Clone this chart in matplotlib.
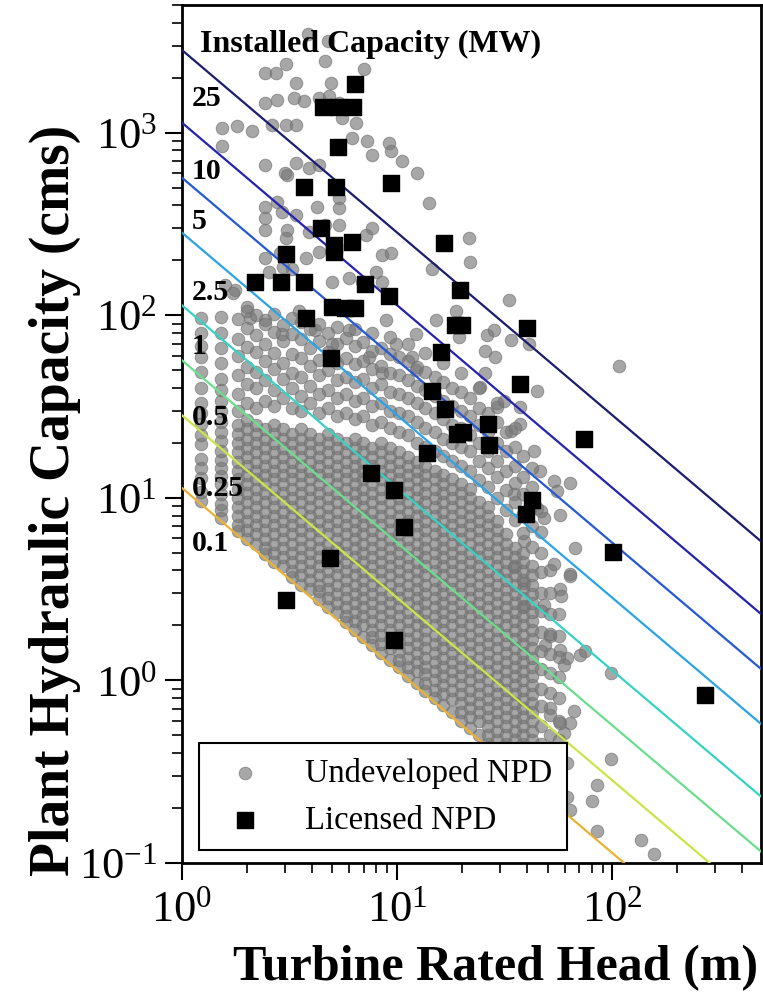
import matplotlib
matplotlib.use("Agg")
import matplotlib.pyplot as plt
import numpy as np

plt.rcParams["font.family"] = ["Liberation Serif", "DejaVu Serif"]
plt.rcParams["mathtext.fontset"] = "custom"
plt.rcParams["mathtext.rm"] = "Liberation Serif"
plt.rcParams["mathtext.it"] = "Liberation Serif:italic"
plt.rcParams["mathtext.bf"] = "Liberation Serif:bold"
plt.rcParams["axes.unicode_minus"] = False

# constant installed-capacity guide lines
capacity_mw = [25, 10, 5, 2.5, 1, 0.5, 0.25, 0.1]
capacity_labels = ["25", "10", "5", "2.5", "1", "0.5", "0.25", "0.1"]
capacity_colors = ["#1c1c6e", "#2323b0", "#2458d4", "#2ba3e6",
                   "#36d2c2", "#6ade8c", "#c9e548", "#eab232"]
efficiency = 0.9

# licensed NPD sites: head (m), flow (cms)
lic_head = [6.38, 4.53, 5.32, 6.24, 5.32, 3.69, 5.2, 9.38, 4.43, 5.09,
            6.18, 5.09, 3.05, 16.5, 2.19, 2.89, 3.69, 7.1, 9.18, 19.6,
            3.77, 4.98, 5.73, 6.38, 18.5, 20.0, 4.93, 16.0, 14.5, 16.7,
            19.0, 20.3, 13.8, 7.57, 9.68, 10.7, 4.88, 40.2, 37.3, 26.5,
            26.8, 74.0, 42.5, 39.8, 101, 3.05, 9.68, 268]
lic_flow = [1837, 1380, 1380, 1380, 838, 505, 505, 531, 301, 243,
            252, 222, 216, 249, 152, 152, 152, 148, 128, 137,
            97, 111, 110, 109, 88, 88, 58, 63, 38.7, 30.8,
            22.5, 23.0, 17.7, 13.6, 11.1, 6.9, 4.68, 85, 41.8, 25.5,
            19.5, 21.1, 9.75, 8.2, 5.05, 2.75, 1.66, 0.83]

# undeveloped NPD sites, crowded part read column by column (head in m)
und_col_head = [1.22, 1.52, 1.83, 2.0, 2.2, 2.44, 2.68, 2.95, 3.25, 3.58,
                3.94, 4.33, 4.76, 5.24, 5.76, 6.34, 6.97, 7.67, 8.44, 9.28,
                10.2, 11.2, 12.3, 13.5, 14.9, 16.4, 18.0, 19.8, 21.8, 24.0,
                26.4, 29.0, 31.9, 35.1, 38.6, 42.5, 46.7, 51.4, 56.5]
und_col_flow = [
    [9.6, 10.8, 12.9, 14.5, 16.4, 19.8, 22, 25.5, 29, 33, 40, 49, 59, 68, 80, 97],
    [7.8, 8.6, 9.3, 10.5, 11.9, 13.2, 14.6, 16.2, 18, 20.5, 23, 26, 30, 34, 39,
     45, 55, 66, 80, 98],
    [6.6, 7.08, 7.94, 8.91, 10.0, 11.2, 12.6, 14.1, 15.8, 17.8, 20.0, 22.4, 25.1,
     30, 37, 47, 60, 74, 95],
    [5.96, 6.68, 7.50, 8.41, 9.44, 10.6, 11.9, 13.3, 15.0, 16.8, 18.8, 21.1, 23.7,
     26.6, 33, 42, 52, 67, 85, 105],
    [5.62, 6.31, 7.08, 7.94, 8.91, 10.0, 11.2, 12.6, 14.1, 15.8, 17.8, 20.0, 22.4,
     25.1, 31, 40, 49, 63, 78, 100],
    [4.95, 5.31, 5.96, 6.68, 7.50, 8.41, 9.44, 10.6, 11.9, 13.3, 15.0, 16.8, 18.8,
     21.1, 23.7, 34, 44, 56, 70, 90],
    [4.47, 5.01, 5.62, 6.31, 7.08, 7.94, 8.91, 10.0, 11.2, 12.6, 14.1, 15.8, 17.8,
     20.0, 22.4, 25.1, 32, 39, 51, 62, 81, 102],
    [4.22, 4.73, 5.31, 5.96, 6.68, 7.50, 8.41, 9.44, 10.6, 11.9, 13.3, 15.0, 16.8,
     18.8, 21.1, 23.7, 35, 45, 55, 72, 88],
    [3.7, 3.98, 4.47, 5.01, 5.62, 6.31, 7.08, 7.94, 8.91, 10.0, 11.2, 12.6, 14.1,
     15.8, 17.8, 20.0, 22.4, 31, 40, 48, 61, 79, 97],
    [3.35, 3.76, 4.22, 4.73, 5.31, 5.96, 6.68, 7.50, 8.41, 9.44, 10.6, 11.9, 13.3,
     15.0, 16.8, 18.8, 21.1, 23.7, 30, 36, 46, 58, 74, 92],
    [3.16, 3.55, 3.98, 4.47, 5.01, 5.62, 6.31, 7.08, 7.94, 8.91, 10.0, 11.2, 12.6,
     14.1, 15.8, 17.8, 20.0, 22.4, 33, 41, 53, 66, 84],
    [2.8, 3.1, 3.35, 3.76, 4.22, 4.73, 5.31, 5.96, 6.68, 7.50, 8.41, 9.44, 10.6,
     11.9, 13.3, 15.0, 16.8, 18.8, 21.1, 29, 37, 47, 57, 72, 90],
    [2.51, 2.82, 3.16, 3.55, 3.98, 4.47, 5.01, 5.62, 6.31, 7.08, 7.94, 8.91, 10.0,
     11.2, 12.6, 14.1, 15.8, 17.8, 20.0, 22.4, 31, 39, 50, 63, 80],
    [2.37, 2.66, 2.99, 3.35, 3.76, 4.22, 4.73, 5.31, 5.96, 6.68, 7.50, 8.41, 9.44,
     10.6, 11.9, 13.3, 15.0, 16.8, 18.8, 21.1, 28, 35, 44, 55, 70, 86],
    [2.08, 2.24, 2.51, 2.82, 3.16, 3.55, 3.98, 4.47, 5.01, 5.62, 6.31, 7.08, 7.94,
     8.91, 10.0, 11.2, 12.6, 14.1, 15.8, 17.8, 20.0, 29, 37, 46, 58, 75],
    [1.88, 2.11, 2.37, 2.66, 2.99, 3.35, 3.76, 4.22, 4.73, 5.31, 5.96, 6.68, 7.50,
     8.41, 9.44, 10.6, 11.9, 13.3, 15.0, 16.8, 18.8, 21.1, 27, 34, 43, 54, 68, 84],
    [1.72, 2.00, 2.24, 2.51, 2.82, 3.16, 3.55, 3.98, 4.47, 5.01, 5.62, 6.31, 7.08,
     7.94, 8.91, 10.0, 11.2, 12.6, 14.1, 15.8, 17.8, 20.0, 28, 35, 45, 56, 71],
    [1.57, 1.72, 1.88, 2.11, 2.37, 2.66, 2.99, 3.35, 3.76, 4.22, 4.73, 5.31, 5.96,
     6.68, 7.50, 8.41, 9.44, 10.6, 11.9, 13.3, 15.0, 16.8, 18.8, 25, 32, 40, 51,
     64, 80],
    [1.41, 1.58, 1.78, 2.00, 2.24, 2.51, 2.82, 3.16, 3.55, 3.98, 4.47, 5.01, 5.62,
     6.31, 7.08, 7.94, 8.91, 10.0, 11.2, 12.6, 14.1, 15.8, 17.8, 20.0, 26, 33, 42,
     53, 66],
    [1.3, 1.50, 1.68, 1.88, 2.11, 2.37, 2.66, 2.99, 3.35, 3.76, 4.22, 4.73, 5.31,
     5.96, 6.68, 7.50, 8.41, 9.44, 10.6, 11.9, 13.3, 15.0, 16.8, 18.8, 24, 30, 38,
     48, 61, 76],
    [1.18, 1.3, 1.44, 1.6, 1.78, 2.00, 2.24, 2.51, 2.82, 3.16, 3.55, 3.98, 4.47,
     5.01, 5.62, 6.31, 7.08, 7.94, 8.91, 10.0, 11.2, 12.6, 14.1, 15.8, 17.8, 23,
     29, 37, 47, 59],
    [1.06, 1.19, 1.33, 1.50, 1.68, 1.88, 2.11, 2.37, 2.66, 2.99, 3.35, 3.76, 4.22,
     4.73, 5.31, 5.96, 6.68, 7.50, 8.41, 9.44, 10.6, 11.9, 13.3, 15.0, 16.8, 22,
     28, 35, 44, 56, 70],
    [0.97, 1.12, 1.26, 1.41, 1.58, 1.78, 2.00, 2.24, 2.51, 2.82, 3.16, 3.55, 3.98,
     4.47, 5.01, 5.62, 6.31, 7.08, 7.94, 8.91, 10.0, 11.2, 12.6, 14.1, 15.8, 20,
     26, 33, 41, 52],
    [0.88, 0.97, 1.08, 1.19, 1.33, 1.50, 1.68, 1.88, 2.11, 2.37, 2.66, 2.99, 3.35,
     3.76, 4.22, 4.73, 5.31, 5.96, 6.68, 7.50, 8.41, 9.44, 10.6, 11.9, 13.3, 15.0,
     19, 24, 31, 39, 49, 62],
    [0.8, 0.891, 1.00, 1.12, 1.26, 1.41, 1.58, 1.78, 2.00, 2.24, 2.51, 2.82, 3.16,
     3.55, 3.98, 4.47, 5.01, 5.62, 6.31, 7.08, 7.94, 8.91, 10.0, 11.2, 12.6, 14.1,
     18, 23, 29, 36, 46],
    [0.73, 0.841, 0.944, 1.06, 1.19, 1.33, 1.50, 1.68, 1.88, 2.11, 2.37, 2.66,
     2.99, 3.35, 3.76, 4.22, 4.73, 5.31, 5.96, 6.68, 7.50, 8.41, 9.44, 10.6, 11.9,
     13.3, 17, 21, 27, 34, 43, 55],
    [0.67, 0.794, 0.891, 1.00, 1.12, 1.26, 1.41, 1.58, 1.78, 2.00, 2.24, 2.51,
     2.82, 3.16, 3.55, 3.98, 4.47, 5.01, 5.62, 6.31, 7.08, 7.94, 8.91, 10.0, 11.2,
     12.6, 16, 20, 25, 32, 40],
    [0.6, 0.668, 0.750, 0.841, 0.944, 1.06, 1.19, 1.33, 1.50, 1.68, 1.88, 2.11,
     2.37, 2.66, 2.99, 3.35, 3.76, 4.22, 4.73, 5.31, 5.96, 6.68, 7.50, 8.41, 9.44,
     10.6, 11.9, 15, 19, 24, 30, 38, 48],
    [0.55, 0.631, 0.708, 0.794, 0.891, 1.00, 1.12, 1.26, 1.41, 1.58, 1.78, 2.00,
     2.24, 2.51, 2.82, 3.16, 3.55, 3.98, 4.47, 5.01, 5.62, 6.31, 7.08, 7.94, 8.91,
     10.0, 11.2, 14, 18, 22, 28, 35],
    [0.5, 0.596, 0.668, 0.750, 0.841, 0.944, 1.06, 1.19, 1.33, 1.50, 1.68, 1.88,
     2.11, 2.37, 2.66, 2.99, 3.35, 3.76, 4.22, 4.73, 5.31, 5.96, 6.68, 7.50, 8.41,
     9.44, 12.5, 16, 20, 25, 31, 40],
    [0.45, 0.501, 0.562, 0.631, 0.708, 0.794, 0.891, 1.00, 1.12, 1.26, 1.41, 1.58,
     1.78, 2.00, 2.24, 2.51, 2.82, 3.16, 3.55, 3.98, 4.47, 5.01, 5.62, 6.31, 7.08,
     7.94, 8.91, 11.5, 14.5, 18, 23, 29],
    [0.473, 0.531, 0.596, 0.668, 0.750, 0.841, 0.944, 1.06, 1.19, 1.33, 1.50,
     1.68, 1.88, 2.11, 2.37, 2.66, 2.99, 3.35, 3.76, 4.22, 4.73, 5.31, 5.96, 6.68,
     7.50, 10, 13, 16, 20, 26, 33],
    [0.447, 0.501, 0.562, 0.631, 0.708, 0.794, 0.891, 1.00, 1.12, 1.26, 1.41,
     1.58, 1.78, 2.00, 2.24, 2.51, 2.82, 3.16, 3.55, 3.98, 4.47, 5.01, 5.62, 6.31,
     8.6, 11, 14, 18, 23],
    [0.473, 0.531, 0.596, 0.668, 0.750, 0.841, 0.944, 1.06, 1.19, 1.33, 1.50,
     1.68, 1.88, 2.11, 2.37, 2.66, 2.99, 3.35, 3.76, 4.22, 4.73, 5.31, 7.6, 9.5,
     12, 15, 19, 24],
    [0.447, 0.501, 0.562, 0.631, 0.708, 0.794, 0.891, 1.00, 1.12, 1.26, 1.41,
     1.58, 1.78, 2.00, 2.24, 2.51, 2.82, 3.16, 3.55, 3.98, 4.47, 5.01, 6.4, 8.2,
     10.5, 13, 17],
    [0.473, 0.531, 0.596, 0.668, 0.750, 0.841, 0.944, 1.06, 1.19, 1.33, 1.50,
     1.68, 1.88, 2.11, 2.37, 2.66, 2.99, 3.35, 3.76, 4.22, 5.4, 7, 9, 11.5, 14.5],
    [0.45, 0.56, 0.72, 0.9, 1.15, 1.45, 1.85, 2.4, 3.0, 3.9, 5, 6.5, 8.5],
    [0.5, 0.65, 0.85, 1.1, 1.4, 1.8, 2.3, 3.0, 4.0],
    [0.47, 0.6, 0.8, 1.05, 1.35, 1.75, 2.3],
]

# undeveloped NPD sites, scattered ones
und_head = [2.44, 2.72, 3.03, 3.37, 4.64, 4.9, 7.0, 2.44, 2.77, 3.31,
            3.68, 4.32, 4.81, 5.35, 6.4, 1.53, 1.80, 2.12, 2.62, 3.03,
            3.37, 1.53, 5.55, 6.18, 7.25, 7.65, 9.15, 9.31, 10.5, 12.4,
            2.44, 3.37, 3.08, 3.88, 4.32, 14.0, 21.5, 21.9, 2.44, 2.44,
            2.77, 2.92, 3.37, 4.25, 5.35, 5.35, 3.88, 3.03, 4.64, 5.35,
            7.13, 7.65, 4.32, 3.75, 2.44, 2.53, 3.25, 8.51, 9.31, 14.5,
            7.93, 5.96, 4.99, 6.87, 8.51, 1.77, 1.59, 2.43, 3.01, 3.07,
            2.86, 2.95, 1.73, 2.0, 2.07, 3.86, 4.78, 8.83, 12.2, 9.82,
            7.38, 8.51, 12.2, 11.7, 18.7, 19.4, 15.1, 5.96, 4.99, 4.17,
            2.92, 2.44, 3.49, 32.9, 26.1, 28.1, 33.6, 25.7, 28.6, 40.8,
            44.7, 25.7, 24.3, 31.2, 37.3, 29.1, 33.6, 37.3, 43.0, 46.2,
            53.3, 63.8, 55.3, 34.8, 44.7, 48.0, 57.3, 67.3, 38.7, 53.3,
            63.8, 34.8, 107, 38.7, 38.7, 48.0, 57.3, 57.9, 51.5, 48.8,
            57.3, 61.6, 59.4, 71.0, 74.9, 98.0, 51.5, 57.3, 66.0, 63.8,
            59.4, 98.0, 84.9, 80.5, 84.9, 135, 156, 61.6, 61.6, 63.8,
            63.8]
und_flow = [2128, 2128, 2362, 1875, 2466, 1875, 2218, 1455, 1517, 1549,
            1486, 1549, 1581, 1450, 1130, 1060, 1081, 1016, 1106, 1106,
            1106, 841, 1203, 934, 895, 757, 877, 789, 695, 600,
            667, 681, 587, 639, 667, 410, 264, 196, 393, 340,
            419, 369, 354, 393, 437, 385, 287, 264, 312, 312,
            275, 299, 223, 205, 205, 173, 180, 213, 218, 180,
            173, 159, 152, 152, 152, 137, 146, 293, 603, 293,
            219, 184, 132, 111, 97, 3450, 3162, 94, 79, 70,
            59, 48, 50, 59, 106, 76, 94, 83, 70, 83,
            79, 94, 106, 121, 78, 83, 73, 64, 59, 70,
            38.7, 48, 40.4, 34.1, 31.3, 31.3, 23.3, 25.4, 18.1, 14.1,
            12.4, 12.1, 10.9, 10.5, 8.85, 7.8, 8.1, 5.33, 5.8, 4.33,
            3.81, 4.16, 53, 3.43, 2.55, 2.6, 3.15, 2.9, 1.75, 1.57,
            1.47, 1.33, 1.22, 1.38, 1.44, 1.1, 0.705, 0.583, 0.676, 0.583,
            0.514, 0.37, 0.267, 0.219, 0.15, 0.133, 0.112, 0.351, 0.231, 0.195,
            3.72]

fig = plt.figure(figsize=(7.63, 9.93), dpi=100)
ax = fig.add_axes([182 / 763, 1 - 863 / 993, 579 / 763, 858 / 993])

# flatten the column data
und_x = list(und_head)
und_y = list(und_flow)
for h, flows in zip(und_col_head, und_col_flow):
    und_x += [h] * len(flows)
    und_y += flows

ax.scatter(und_x, und_y, s=82, c="#787878", alpha=0.65, edgecolors="#707070",
           linewidths=0.7, zorder=2, label="Undeveloped NPD")

# P = rho g Q H eta  ->  Q = P / (9.81 eta H)
head_line = np.array([1.0, 490.0])
for p, col in zip(capacity_mw, capacity_colors):
    ax.plot(head_line, p * 1000 / (9.81 * efficiency * head_line), color=col,
            lw=1.6, zorder=3)

ax.scatter(lic_head, lic_flow, marker="s", s=118, c="black", zorder=4,
           label="Licensed NPD")

ax.set_xscale("log")
ax.set_yscale("log")
ax.set_xlim(1, 490)
ax.set_ylim(0.1, 5000)

label_y = [0.8916, 0.8054, 0.7471, 0.6655, 0.6014, 0.5198, 0.4359, 0.3718]
for txt, yy in zip(capacity_labels, label_y):
    ax.text(0.0173, yy, txt, transform=ax.transAxes, fontsize=21.5,
            fontweight="bold", ha="left", va="center", zorder=5)
ax.text(0.031, 0.9545, "Installed Capacity (MW)", transform=ax.transAxes,
        fontsize=23, fontweight="bold", ha="left", va="center", zorder=5)

for sp in ax.spines.values():
    sp.set_linewidth(2)
ax.tick_params(which="major", direction="out", length=12, width=1.5,
               labelsize=32, pad=6)
ax.tick_params(which="minor", direction="out", length=7, width=1.2)
ax.tick_params(axis="x", which="major", pad=8)

ax.set_xlabel("Turbine Rated Head (m)", fontsize=36, fontweight="bold")
ax.set_ylabel("Plant Hydraulic Capacity (cms)", fontsize=40, fontweight="bold")
ax.xaxis.set_label_coords(0.541, -0.095)
ax.yaxis.set_label_coords(-0.175, 0.423)

leg = ax.legend(loc="upper left", bbox_to_anchor=(17 / 579, 120 / 858),
                borderaxespad=0, borderpad=0.45, handlelength=1.9,
                handletextpad=0.9, labelspacing=0.5, fontsize=23.5,
                fancybox=False, framealpha=1, edgecolor="black")
leg.get_frame().set_linewidth(1.5)
leg.set_zorder(6)

plt.savefig("out.png", dpi=100)
